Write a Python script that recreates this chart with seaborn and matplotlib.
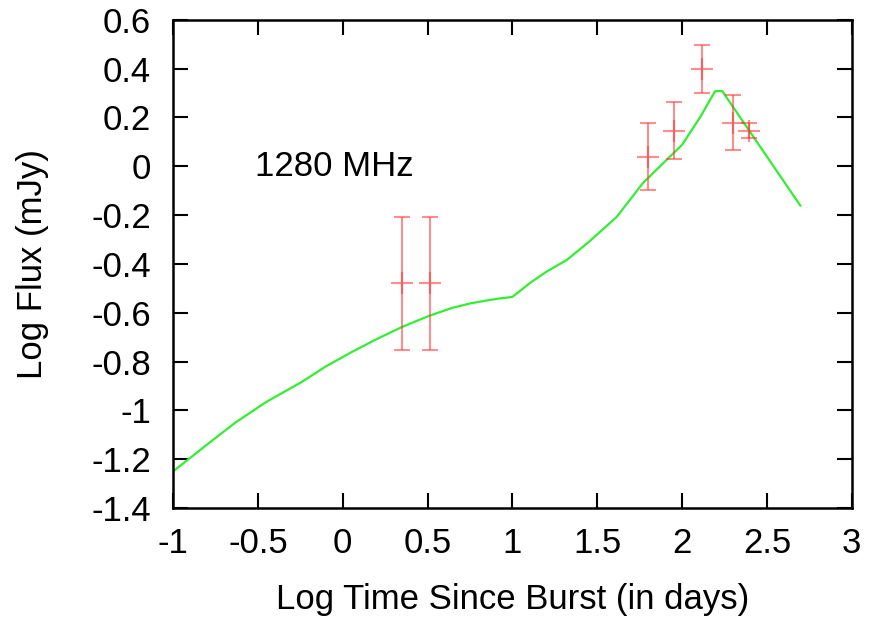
import matplotlib
matplotlib.use("Agg")
import matplotlib.pyplot as plt
import seaborn as sns
import numpy as np
import pandas as pd

# Observed data
obs_x = [0.35, 0.515, 1.80, 1.953, 2.118, 2.30, 2.396]
obs_y = [-0.478, -0.478, 0.039, 0.145, 0.40, 0.178, 0.145]
obs_lo = [-0.752, -0.752, -0.097, 0.03, 0.30, 0.067, 0.114]
obs_hi = [-0.207, -0.207, 0.178, 0.264, 0.497, 0.291, 0.176]

# Model curve
model_x = [-1.0, -0.8, -0.633, -0.45, -0.243, -0.1, 0.053, 0.2, 0.35, 0.5, 0.645, 0.75, 0.846, 0.93, 0.98,
           1.0, 1.10, 1.2, 1.32, 1.45, 1.615, 1.77, 1.87, 2.0, 2.107, 2.195, 2.237, 2.698]
model_y = [-1.25, -1.14, -1.05, -0.965, -0.884, -0.82, -0.761, -0.708, -0.658, -0.615, -0.58, -0.562, -0.55, -0.541, -0.537,
           -0.535, -0.48, -0.432, -0.384, -0.31, -0.207, -0.068, 0.0, 0.088, 0.202, 0.308, 0.308, -0.162]

xticks = [-1, -0.5, 0, 0.5, 1, 1.5, 2, 2.5, 3]
yticks = [-1.4, -1.2, -1, -0.8, -0.6, -0.4, -0.2, 0, 0.2, 0.4, 0.6]

def fmt(v):
    return "%g" % v

sns.set_style("ticks")
plt.rcParams['font.family'] = ['Liberation Sans', 'DejaVu Sans']
plt.rcParams['text.color'] = 'black'
plt.rcParams['axes.labelcolor'] = 'black'

fig = plt.figure(figsize=(8.7, 6.21), dpi=100)
ax = fig.add_axes([0.199, 0.182, 0.780, 0.786])

df = pd.DataFrame({"x": model_x, "y": model_y})
sns.lineplot(data=df, x="x", y="y", ax=ax, color="#33ee33", linewidth=1.6, sort=False)

y = np.array(obs_y)
yerr = np.vstack([y - np.array(obs_lo), np.array(obs_hi) - y])
ax.errorbar(obs_x, obs_y, yerr=yerr, fmt='+', color="#ff3333", alpha=0.55,
            capsize=6, elinewidth=1.5, capthick=1.5, markersize=16, markeredgewidth=1.5)

ax.set_xlim(-1, 3)
ax.set_ylim(-1.4, 0.6)
ax.set_xticks(xticks)
ax.set_xticklabels([fmt(v) for v in xticks])
ax.set_yticks(yticks)
ax.set_yticklabels([fmt(v) for v in yticks])
ax.tick_params(direction='in', length=11, width=1.5, top=True, right=True,
               labelsize=25, colors='black')
ax.tick_params(axis='x', pad=14)
ax.tick_params(axis='y', pad=16)
for sp in ax.spines.values():
    sp.set_visible(True)
    sp.set_linewidth(1.8)
    sp.set_color('black')

ax.set_xlabel("Log Time Since Burst (in days)", fontsize=25, labelpad=16, color='black')
ax.set_ylabel("Log Flux (mJy)", fontsize=25, labelpad=30, color='black')
ax.text(-0.52, 0.0, "1280 MHz", fontsize=25, ha='left', va='center', color='black')

fig.savefig("out.png", dpi=100)
